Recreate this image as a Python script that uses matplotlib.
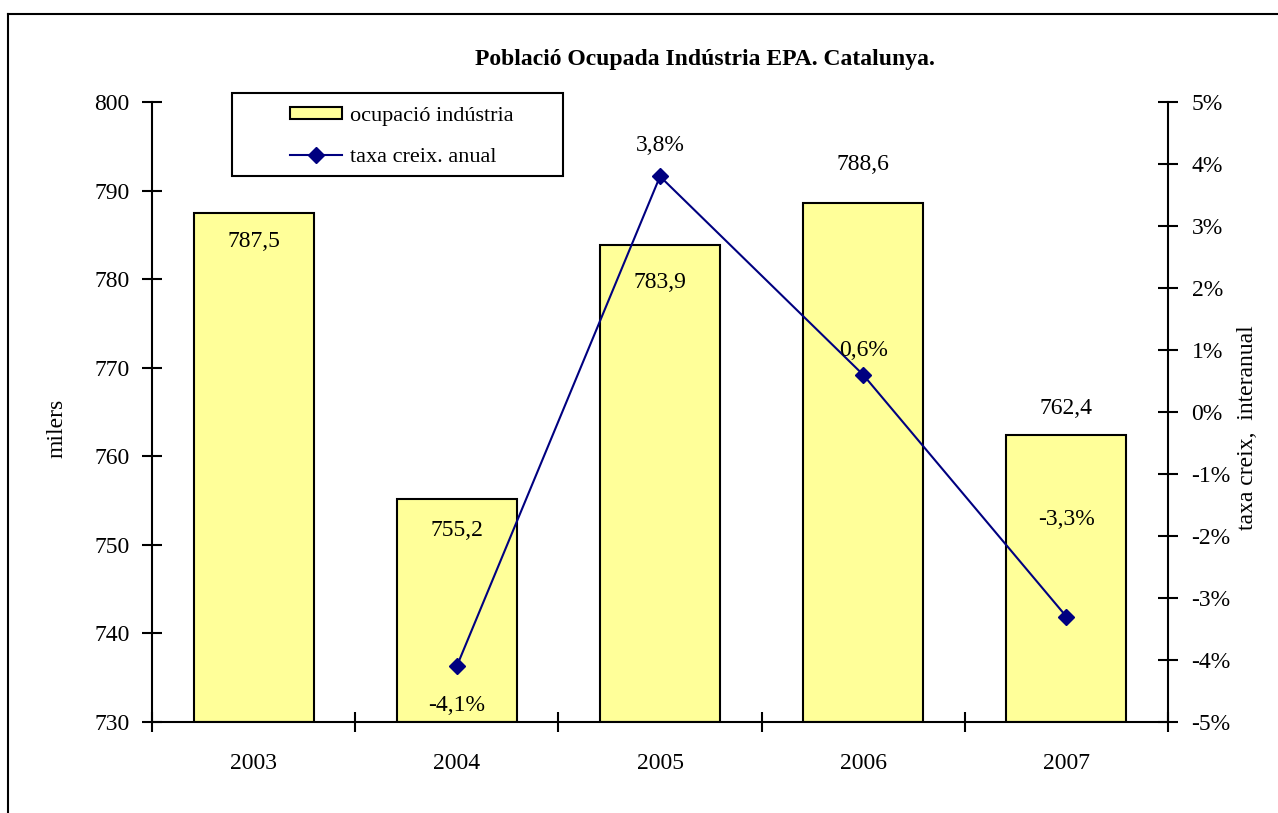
import matplotlib.pyplot as plt
from matplotlib.lines import Line2D
from matplotlib.patches import Rectangle

years = ['2003', '2004', '2005', '2006', '2007']
ocupacio = [787.5, 755.2, 783.9, 788.6, 762.4]
taxa = [None, -4.1, 3.8, 0.6, -3.3]
ocupacio_labels = ['787,5', '755,2', '783,9', '788,6', '762,4']
taxa_labels = ['', '-4,1%', '3,8%', '0,6%', '-3,3%']

# label offsets in pixels (as Excel placed them)
bar_off = [-29, -32, -38, 38, 27]
line_off = [0, -39, 31, 24, 97]

plt.rcParams['font.family'] = ['Liberation Serif', 'DejaVu Serif']
W, H = 1278, 813
FS = 17
fig = plt.figure(figsize=(W / 100, H / 100), dpi=100)

# outer chart border (left and top visible, rest cut off)
fig.add_artist(Line2D([8 / W, 8 / W], [0, 1 - 14 / H], transform=fig.transFigure, color='black', lw=1.5))
fig.add_artist(Line2D([8 / W, 1], [1 - 14 / H, 1 - 14 / H], transform=fig.transFigure, color='black', lw=1.5))

ax = fig.add_axes([152 / W, (H - 722) / H, (1168 - 152) / W, (722 - 102) / H])
x = list(range(len(years)))
ax.bar(x, [v - 730 for v in ocupacio], bottom=730, width=0.59, color='#FFFF99', edgecolor='black', lw=1.5, zorder=2)
ax.set_xlim(-0.5, 4.5)
ax.set_ylim(730, 800)
ax.set_yticks(range(730, 801, 10))
ax.set_xticks(x)
ax.set_xticklabels(years)
ax.set_xticks([i + 0.5 for i in range(-1, 5)], minor=True)
ax.tick_params(axis='x', which='major', length=0, pad=22, labelsize=FS)
ax.tick_params(axis='x', which='minor', direction='inout', length=14, width=1.5)
ax.tick_params(axis='y', direction='inout', length=14, width=1.5, labelsize=FS, pad=9)
ax.spines['top'].set_visible(False)
ax.spines['right'].set_visible(False)
for s in ['left', 'bottom']:
    ax.spines[s].set_linewidth(1.5)
ax.set_ylabel('milers', fontsize=FS)
ax.yaxis.set_label_coords(-0.083, 0.474)

for xi, v, lab, off in zip(x, ocupacio, ocupacio_labels, bar_off):
    ax.annotate(lab, (xi, v), xytext=(0, off), textcoords='offset pixels',
                ha='center', va='center', fontsize=FS, zorder=5)

ax2 = ax.twinx()
tx = [xi for xi, t in zip(x, taxa) if t is not None]
ty = [t for t in taxa if t is not None]
ax2.plot(tx, ty, color='#000080', lw=1.5, marker='D', markersize=8, zorder=3)
ax2.set_ylim(-5, 5)
ax2.set_yticks(range(-5, 6))
ax2.set_yticklabels([f'{v}%' for v in range(-5, 6)])
ax2.tick_params(axis='y', direction='inout', length=14, width=1.5, labelsize=FS, pad=10)
for s in ['top', 'left', 'bottom']:
    ax2.spines[s].set_visible(False)
ax2.spines['right'].set_linewidth(1.5)
ax2.set_ylabel('taxa creix,  interanual', fontsize=FS)
ax2.yaxis.set_label_coords(1.068, 0.474)

for xi, t, lab, off in zip(x, taxa, taxa_labels, line_off):
    if t is None:
        continue
    ax2.annotate(lab, (xi, t), xytext=(0, off), textcoords='offset pixels',
                 ha='center', va='center', fontsize=FS, zorder=5)

# legend box drawn separately, entries placed inside it
fig.add_artist(Rectangle((232 / W, 1 - 176 / H), (563 - 232) / W, (176 - 93) / H,
                         transform=fig.transFigure, facecolor='white', edgecolor='black', lw=1.5, zorder=9))
handles = [Rectangle((0, 0), 1, 1, facecolor='#FFFF99', edgecolor='black', lw=1.5),
           Line2D([], [], color='#000080', lw=1.5, marker='D', markersize=8)]
leg = fig.legend(handles, ['ocupació indústria', 'taxa creix. anual'],
                 loc='center left', bbox_to_anchor=(290 / W, 1 - 137 / H),
                 fontsize=16, frameon=False, handlelength=2.35, handleheight=0.5,
                 borderpad=0, labelspacing=1.0, handletextpad=0.35, borderaxespad=0)
leg.set_zorder(10)

fig.text(705 / W, 1 - 60 / H, 'Població Ocupada Indústria EPA. Catalunya.',
         ha='center', va='center', fontsize=17, fontweight='bold')

fig.savefig('out.png', dpi=100)
